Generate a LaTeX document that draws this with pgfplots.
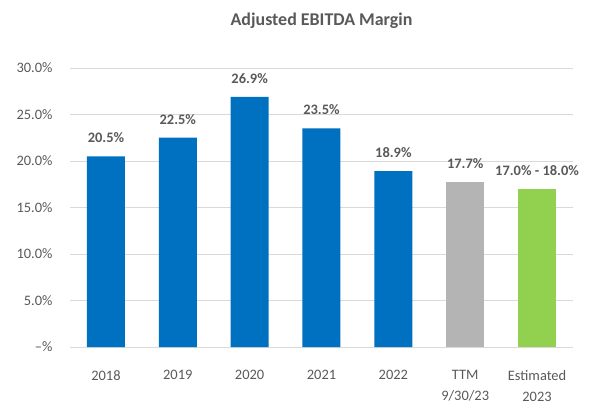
\documentclass[border=0pt]{standalone}
\usepackage{pgfplots}
\pgfplotsset{compat=1.18}
\usepackage{fontspec}
\setmainfont{Carlito}
\definecolor{barblue}{HTML}{0070C0}
\definecolor{bargray}{HTML}{B4B4B4}
\definecolor{bargreen}{HTML}{92D050}
\definecolor{txtgray}{HTML}{595959}
\definecolor{gridgray}{HTML}{D9D9D9}
\begin{document}
\begin{tikzpicture}
\path[use as bounding box] (-70bp,-69bp) rectangle (524bp,347bp);
\begin{axis}[
  scale only axis,
  width=503bp, height=279bp,
  at={(0,0)},
  xmin=-0.5, xmax=6.5,
  ymin=0, ymax=30,
  ytick={0,5,10,15,20,25,30},
  yticklabels={--\%,5.0\%,10.0\%,15.0\%,20.0\%,25.0\%,30.0\%},
  xtick={0,1,2,3,4,5,6},
  xticklabels={2018,2019,2020,2021,2022,{TTM\\9/30/23},{Estimated\\2023}},
  xticklabel style={align=center, font=\fontsize{14.5}{21}\selectfont, text=txtgray, anchor=north, yshift=-20bp},
  yticklabel style={font=\fontsize{14.5}{17}\selectfont, text=txtgray, xshift=-14bp},
  /pgf/number format/assume math mode=true,
  major tick length=0pt,
  axis line style={draw=none},
  ymajorgrids,
  grid style={gridgray, line width=0.8pt},
  ybar, bar width=38bp, bar shift=0pt,
  nodes near coords,
  point meta=explicit symbolic,
  every node near coord/.append style={font=\bfseries\fontsize{14.5}{17}\selectfont, text=txtgray, yshift=10bp},
  title={Adjusted EBITDA Margin},
  title style={font=\bfseries\fontsize{18}{21}\selectfont, text=txtgray, yshift=30bp},
]
\addplot[fill=barblue, draw=none] coordinates {
  (0,20.5) [20.5\%]
  (1,22.5) [22.5\%]
  (2,26.9) [26.9\%]
  (3,23.5) [23.5\%]
  (4,18.9) [18.9\%]
};
\addplot[fill=bargray, draw=none] coordinates {(5,17.7) [17.7\%]};
\addplot[fill=bargreen, draw=none] coordinates {(6,17.0) [17.0\% - 18.0\%]};
\end{axis}
\end{tikzpicture}
\end{document}
